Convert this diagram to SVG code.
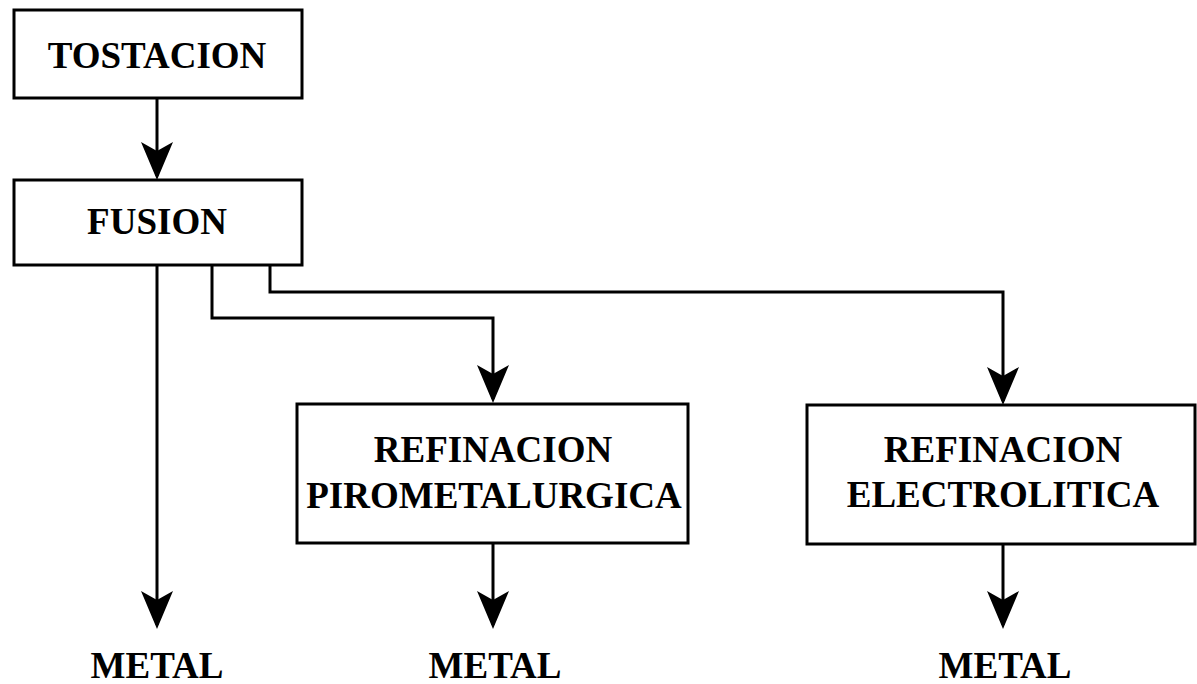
<svg xmlns="http://www.w3.org/2000/svg" width="1197" height="684" viewBox="0 0 1197 684">
<style>
.box{fill:#fff;stroke:#000;stroke-width:3}
.t{font-family:"Liberation Serif","Times New Roman",serif;font-weight:bold;font-size:37px;fill:#000;text-anchor:middle}
.c{fill:none;stroke:#000;stroke-width:3}
</style>
<defs>
<marker id="ah" viewBox="0 0 38 32" markerWidth="38" markerHeight="32" refX="34" refY="16" orient="auto" markerUnits="userSpaceOnUse">
<path d="M38,16 L0,0 L9,16 L0,32 Z" fill="#000"/>
</marker>
</defs>
<rect width="1197" height="684" fill="#fff"/>
<g id="connectors">
<line class="c" x1="157" y1="98" x2="157" y2="176" marker-end="url(#ah)"/>
<line class="c" x1="157" y1="265" x2="157" y2="625" marker-end="url(#ah)"/>
<path class="c" d="M212,263 V318 H493 V399" marker-end="url(#ah)"/>
<path class="c" d="M270,263 V292 H1003 V401" marker-end="url(#ah)"/>
<line class="c" x1="493" y1="543" x2="493" y2="625" marker-end="url(#ah)"/>
<line class="c" x1="1003" y1="544" x2="1003" y2="625" marker-end="url(#ah)"/>
</g>
<g id="tostacion">
<rect class="box" x="14" y="10" width="288" height="88"/>
<text class="t" x="157" y="68">TOSTACION</text>
</g>
<g id="fusion">
<rect class="box" x="14" y="180" width="288" height="85"/>
<text class="t" x="157" y="234">FUSION</text>
</g>
<g id="piro">
<rect class="box" x="297" y="404" width="391" height="139"/>
<text class="t" x="493" y="462">REFINACION</text>
<text class="t" x="494" y="508">PIROMETALURGICA</text>
</g>
<g id="electro">
<rect class="box" x="807" y="405" width="388" height="139"/>
<text class="t" x="1003" y="462">REFINACION</text>
<text class="t" x="1003" y="507">ELECTROLITICA</text>
</g>
<g id="metal1"><text class="t" x="157" y="678">METAL</text></g>
<g id="metal2"><text class="t" x="495" y="678">METAL</text></g>
<g id="metal3"><text class="t" x="1005" y="678">METAL</text></g>
</svg>
